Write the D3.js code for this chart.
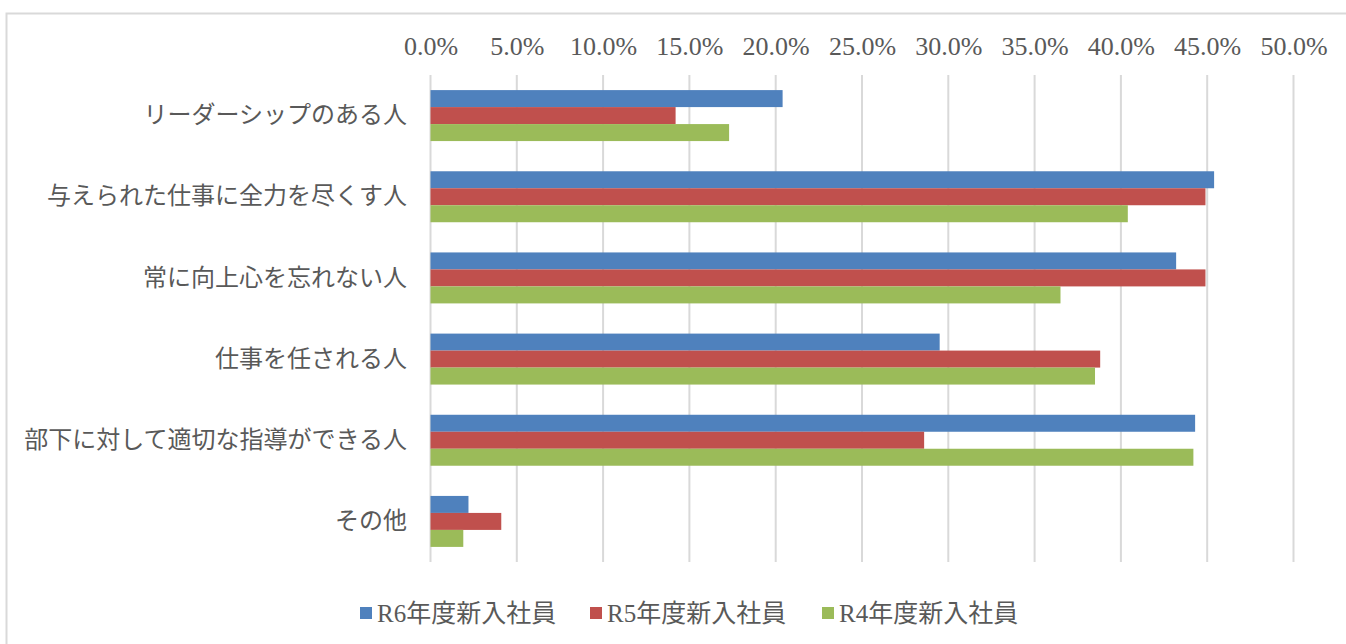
<!DOCTYPE html>
<html>
<head>
<meta charset="utf-8">
<script src="https://cdn.jsdelivr.net/npm/d3@7"></script>
<style>
  html, body { margin: 0; padding: 0; background: #fff; }
  svg text { font-family: "Liberation Serif", "DejaVu Serif", "Noto Sans CJK JP", serif; fill: #595959; }
</style>
</head>
<body>
<div id="chart"></div>
<script>
const categories = [
  'リーダーシップのある人',
  '与えられた仕事に全力を尽くす人',
  '常に向上心を忘れない人',
  '仕事を任される人',
  '部下に対して適切な指導ができる人',
  'その他',
];
const seriesNames = ['R6年度新入社員', 'R5年度新入社員', 'R4年度新入社員'];
const seriesColors = ['#4F81BD', '#C0504D', '#9BBB59'];
const r6Values = [20.4, 45.4, 43.2, 29.5, 44.3, 2.2];
const r5Values = [14.2, 44.9, 44.9, 38.8, 28.6, 4.1];
const r4Values = [17.3, 40.4, 36.5, 38.5, 44.2, 1.9];
const tickValues = [0, 5, 10, 15, 20, 25, 30, 35, 40, 45, 50];

const width = 1346;
const height = 644;

const series = [r6Values, r5Values, r4Values];
const rows = categories.map((c, i) => ({
  category: c,
  values: series.map((s, j) => ({ key: seriesNames[j], value: s[i], color: seriesColors[j] })),
}));

const svg = d3.select('#chart').append('svg')
  .attr('width', width)
  .attr('height', height);

// chart frame
svg.append('rect')
  .attr('x', 6.5)
  .attr('y', 13.5)
  .attr('width', width + 20)
  .attr('height', height + 20)
  .attr('fill', 'none')
  .attr('stroke', '#D9D9D9')
  .attr('stroke-width', 2);

const x = d3.scaleLinear().domain([0, 50]).range([430.5, 1293.5]);
const y = d3.scaleBand().domain(categories).range([75, 562])
  .paddingInner(0.372).paddingOuter(0.186);
const ySub = d3.scaleBand().domain(seriesNames).range([0, y.bandwidth()]);

// gridlines
svg.append('g')
  .selectAll('line')
  .data(tickValues)
  .join('line')
  .attr('x1', (d) => x(d))
  .attr('x2', (d) => x(d))
  .attr('y1', 75)
  .attr('y2', 562)
  .attr('stroke', '#D9D9D9')
  .attr('stroke-width', 2);

// top axis labels
const xAxis = d3.axisTop(x)
  .tickValues(tickValues)
  .tickSize(0)
  .tickPadding(0)
  .tickFormat((d) => `${d.toFixed(1)}%`);

svg.append('g')
  .attr('transform', 'translate(0,55)')
  .call(xAxis)
  .call((g) => g.select('.domain').remove())
  .selectAll('text')
  .attr('font-size', 26)
  .attr('fill', '#595959');

// category labels
const yAxis = d3.axisLeft(y).tickSize(0).tickPadding(0);
svg.append('g')
  .attr('transform', 'translate(407,0)')
  .call(yAxis)
  .call((g) => g.select('.domain').remove())
  .selectAll('text')
  .attr('font-size', 24)
  .attr('fill', '#595959');

// bars
const group = svg.append('g')
  .selectAll('g')
  .data(rows)
  .join('g')
  .attr('transform', (d) => `translate(0,${y(d.category)})`);

group.selectAll('rect')
  .data((d) => d.values)
  .join('rect')
  .attr('x', x(0))
  .attr('y', (d) => ySub(d.key))
  .attr('width', (d) => x(d.value) - x(0))
  .attr('height', ySub.bandwidth())
  .attr('fill', (d) => d.color);

// legend
const legendPos = [360, 590, 822];
const legend = svg.append('g')
  .selectAll('g')
  .data(seriesNames)
  .join('g')
  .attr('transform', (d, i) => `translate(${legendPos[i]},607)`);

legend.append('rect')
  .attr('width', 12)
  .attr('height', 12)
  .attr('fill', (d, i) => seriesColors[i]);

legend.append('text')
  .attr('x', 17)
  .attr('y', 6)
  .attr('dy', '0.35em')
  .attr('font-size', 25)
  .text((d) => d);
</script>
</body>
</html>
